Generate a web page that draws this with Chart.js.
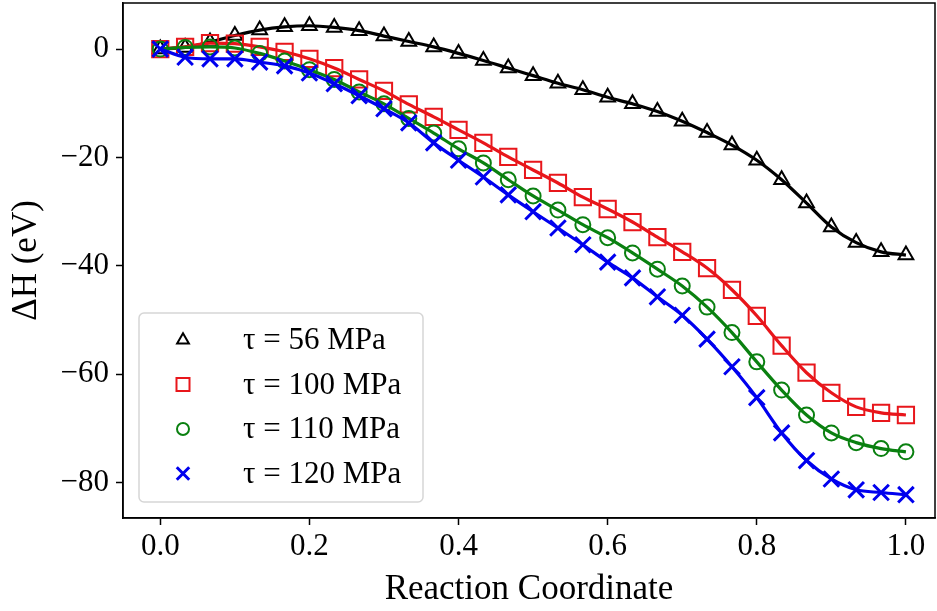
<!DOCTYPE html>
<html lang="en">
<head>
    <title>Reaction enthalpy</title>
    <script src="https://cdn.jsdelivr.net/npm/chart.js"></script>
    <style>
        body { margin: 0; background: #fff; }
        canvas { display: block; }
    </style>
</head>
<body>
    <canvas id="myChart" width="937" height="611"></canvas>

    <script>
        // reaction coordinate: 31 images from 0 to 1
        const coords = [0, 0.0333, 0.0667, 0.1, 0.1333, 0.1667, 0.2, 0.2333, 0.2667, 0.3,
            0.3333, 0.3667, 0.4, 0.4333, 0.4667, 0.5, 0.5333, 0.5667, 0.6, 0.6333,
            0.6667, 0.7, 0.7333, 0.7667, 0.8, 0.8333, 0.8667, 0.9, 0.9333, 0.9667, 1.0];

        const dH56 = [0, 0.3, 1.3, 2.5, 3.5, 4.1, 4.3, 4.0, 3.4, 2.4,
            1.4, 0.4, -0.8, -2.1, -3.5, -4.9, -6.3, -7.5, -8.9, -10.1,
            -11.5, -13.3, -15.4, -17.7, -20.5, -24.1, -28.4, -32.8, -35.7, -37.4, -38.0];

        const dH100 = [0, 0.4, 1.1, 1.0, 0.4, -0.5, -1.8, -3.5, -5.6, -7.7,
            -10.2, -12.5, -14.9, -17.3, -19.9, -22.3, -24.7, -27.3, -29.5, -31.9,
            -34.7, -37.4, -40.4, -44.4, -49.2, -54.7, -59.7, -63.4, -66.0, -67.1, -67.5];

        const dH110 = [0, 0.3, 0.4, 0.2, -0.8, -2.2, -3.8, -5.6, -7.9, -10.1,
            -12.8, -15.5, -18.4, -21.0, -24.1, -27.1, -29.7, -32.4, -34.8, -37.6,
            -40.6, -43.7, -47.6, -52.3, -57.7, -62.9, -67.5, -70.8, -72.6, -73.7, -74.3];

        const dH120 = [0, -1.5, -1.8, -1.8, -2.4, -3.1, -4.4, -6.4, -8.6, -11.0,
            -13.6, -17.3, -20.5, -23.6, -26.9, -30.0, -33.0, -36.1, -39.3, -42.2,
            -45.7, -49.1, -53.5, -58.6, -64.3, -70.8, -75.9, -79.3, -81.3, -81.8, -82.2];

        const seriesLabels = ["\u03c4 = 56 MPa", "\u03c4 = 100 MPa", "\u03c4 = 110 MPa", "\u03c4 = 120 MPa"];
        const xTicks = [0, 0.2, 0.4, 0.6, 0.8, 1.0];
        const yTicks = [0, -20, -40, -60, -80];

        const SERIF = "'Liberation Serif', 'Times New Roman', serif";

        const styles = [
            { color: "#000000", pointStyle: "triangle", radius: 8.5, bw: 2 },
            { color: "#e8161b", pointStyle: "rect", radius: 11.5, bw: 2 },
            { color: "#0a8010", pointStyle: "circle", radius: 7.5, bw: 2 },
            { color: "#0000ee", pointStyle: "crossRot", radius: 11, bw: 3 }
        ];

        function toPoints(ys) {
            return coords.map((x, i) => ({ x: x, y: ys[i] }));
        }

        const allSeries = [dH56, dH100, dH110, dH120];

        const datasets = allSeries.map((ys, k) => ({
            label: seriesLabels[k],
            data: toPoints(ys),
            borderColor: styles[k].color,
            borderWidth: 3.2,
            cubicInterpolationMode: "monotone",
            pointStyle: styles[k].pointStyle,
            pointRadius: styles[k].radius,
            pointBorderWidth: styles[k].bw,
            pointBorderColor: styles[k].color,
            pointBackgroundColor: "rgba(0,0,0,0)",
            order: 3 - k,
            fill: false
        }));

        // frame on top and right, legend box in lower left
        const framePlugin = {
            id: "frame",
            afterDatasetsDraw(chart) {
                const ctx = chart.ctx;
                const a = chart.chartArea;
                ctx.save();

                // legend
                const bx = 139, by = 313, bw = 284, bh = 189, r = 5;
                ctx.beginPath();
                ctx.moveTo(bx + r, by);
                ctx.arcTo(bx + bw, by, bx + bw, by + bh, r);
                ctx.arcTo(bx + bw, by + bh, bx, by + bh, r);
                ctx.arcTo(bx, by + bh, bx, by, r);
                ctx.arcTo(bx, by, bx + bw, by, r);
                ctx.closePath();
                ctx.fillStyle = "rgba(255,255,255,0.85)";
                ctx.fill();
                ctx.strokeStyle = "#d6d6d6";
                ctx.lineWidth = 1.5;
                ctx.stroke();

                ctx.font = "31px " + SERIF;
                ctx.textBaseline = "middle";
                ctx.textAlign = "left";
                styles.forEach((s, k) => {
                    const yy = 340 + k * 44.5;
                    ctx.strokeStyle = s.color;
                    ctx.fillStyle = "rgba(0,0,0,0)";
                    ctx.lineWidth = s.bw;
                    Chart.helpers.drawPoint(ctx, {
                        pointStyle: s.pointStyle,
                        radius: s.radius * 0.8,
                        rotation: 0,
                        borderWidth: s.bw
                    }, 183, yy);
                    ctx.fillStyle = "#000";
                    ctx.fillText(seriesLabels[k], 243, yy + 1);
                });

                // top & right spines
                ctx.strokeStyle = "#000";
                ctx.lineWidth = 1.5;
                ctx.strokeRect(a.left, a.top, a.right - a.left, a.bottom - a.top);
                ctx.restore();
            }
        };

        const ctx = document.getElementById("myChart").getContext("2d");
        new Chart(ctx, {
            type: "line",
            data: { datasets: datasets },
            options: {
                responsive: false,
                animation: false,
                layout: {
                    autoPadding: false,
                    padding: { top: 3, right: 2, left: 0, bottom: 0 }
                },
                plugins: {
                    legend: { display: false },
                    tooltip: { enabled: false }
                },
                scales: {
                    x: {
                        type: "linear",
                        min: -0.05,
                        max: 1.039,
                        afterBuildTicks: s => { s.ticks = xTicks.map(v => ({ value: v })); },
                        afterFit: s => {
                            s.height = 93;
                            s.paddingLeft = 0;
                            s.paddingRight = 0;
                        },
                        grid: {
                            drawOnChartArea: false,
                            drawTicks: true,
                            tickLength: 7,
                            tickWidth: 1.5,
                            tickColor: "#000"
                        },
                        border: { display: true, color: "#000", width: 1.5 },
                        ticks: {
                            color: "#000",
                            padding: 3,
                            maxRotation: 0,
                            font: { family: SERIF, size: 31 },
                            callback: v => v.toFixed(1)
                        },
                        title: {
                            display: true,
                            text: "Reaction Coordinate",
                            color: "#000",
                            font: { family: SERIF, size: 35 },
                            padding: { top: 0, bottom: 0 }
                        }
                    },
                    y: {
                        min: -86.5,
                        max: 8.5,
                        afterBuildTicks: s => { s.ticks = yTicks.map(v => ({ value: v })); },
                        afterFit: s => {
                            s.width = 123;
                            s.paddingTop = 0;
                            s.paddingBottom = 0;
                        },
                        grid: {
                            drawOnChartArea: false,
                            drawTicks: true,
                            tickLength: 7,
                            tickWidth: 1.5,
                            tickColor: "#000"
                        },
                        border: { display: true, color: "#000", width: 1.5 },
                        ticks: {
                            color: "#000",
                            padding: 7,
                            font: { family: SERIF, size: 31 },
                            callback: v => v === 0 ? "0" : (v < 0 ? "\u2212" + Math.abs(v) : String(v))
                        },
                        title: {
                            display: true,
                            text: "\u0394H (eV)",
                            color: "#000",
                            font: { family: SERIF, size: 35 },
                            padding: { top: 6, bottom: 0 }
                        }
                    }
                }
            },
            plugins: [framePlugin]
        });
    </script>
</body>
</html>
